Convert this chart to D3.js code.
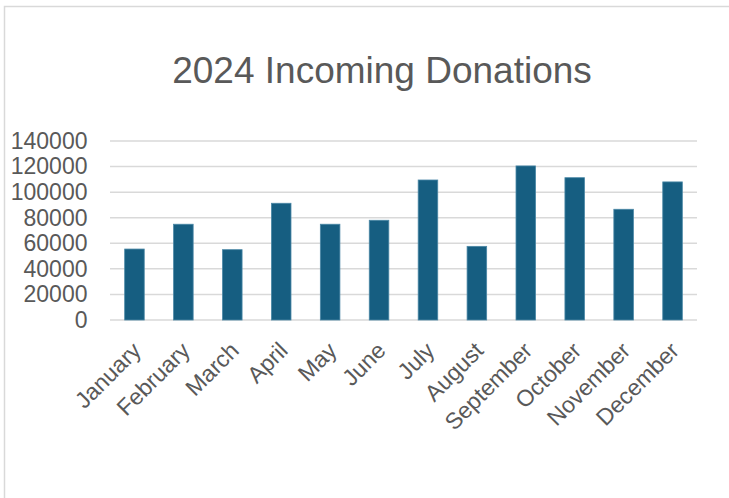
<!DOCTYPE html>
<html>
<head>
<meta charset="utf-8">
<script src="https://cdn.jsdelivr.net/npm/d3@7"></script>
<style>
  html, body { margin: 0; padding: 0; background: #fff; }
  svg { display: block; font-family: "Liberation Sans", Arial, sans-serif; }
</style>
</head>
<body>
<svg id="chart" width="729" height="498"></svg>
<script>
const title = "2024 Incoming Donations";
const months = ["January","February","March","April","May","June","July","August","September","October","November","December"];
const donations = [55500, 74900, 55000, 91300, 74900, 78000, 109500, 57600, 120500, 111300, 86600, 108000];
const yTicks = [0, 20000, 40000, 60000, 80000, 100000, 120000, 140000];

(function () {
const svg = d3.select("#chart");
const W = 729, H = 498;
const plotLeft = 110, plotRight = 697, plotTop = 141, plotBottom = 320;
const textColor = "#595959";

// chart border
svg.append("rect")
  .attr("x", 4.5).attr("y", 6.5)
  .attr("width", W + 20).attr("height", H + 20)
  .attr("fill", "#fff").attr("stroke", "#d9d9d9").attr("stroke-width", 1.5);

const x = d3.scaleBand().domain(months).range([plotLeft, plotRight]).paddingInner(0.6).paddingOuter(0.3);
const y = d3.scaleLinear().domain([0, 140000]).range([plotBottom, plotTop]);

// gridlines
svg.append("g")
  .selectAll("line").data(yTicks).join("line")
  .attr("x1", plotLeft).attr("x2", plotRight)
  .attr("y1", d => y(d)).attr("y2", d => y(d))
  .attr("stroke", "#d9d9d9").attr("stroke-width", 1.5);

// y axis labels
const yAxis = d3.axisLeft(y).tickValues(yTicks).tickFormat(d3.format("d")).tickSize(0).tickPadding(0);
const yg = svg.append("g").attr("transform", "translate(87.5,0)").call(yAxis);
yg.select(".domain").remove();
yg.selectAll("text")
  .attr("fill", textColor)
  .style("font-size", "23px")
  .style("font-family", "'Liberation Sans', Arial, sans-serif");

// bars
svg.append("g")
  .selectAll("rect").data(months).join("rect")
  .attr("x", d => x(d))
  .attr("width", x.bandwidth())
  .attr("y", (d, i) => y(donations[i]))
  .attr("height", (d, i) => y(0) - y(donations[i]))
  .attr("fill", "#165e81")
  .attr("stroke", "#4b88a6")
  .attr("stroke-width", 0.8);

// x axis labels
const xAxis = d3.axisBottom(x).tickSize(0).tickPadding(0);
const xg = svg.append("g").attr("transform", `translate(0,${plotBottom})`).call(xAxis);
xg.select(".domain").remove();
xg.selectAll("text")
  .attr("fill", textColor)
  .style("font-size", "23px")
  .style("font-family", "'Liberation Sans', Arial, sans-serif")
  .attr("text-anchor", "end")
  .attr("dy", null)
  .attr("y", 0)
  .attr("transform", "translate(8,32) rotate(-45)");

// title
svg.append("text")
  .attr("x", 382).attr("y", 83)
  .attr("text-anchor", "middle")
  .attr("fill", textColor)
  .style("font-size", "37px")
  .text(title);
})();
</script>
</body>
</html>
